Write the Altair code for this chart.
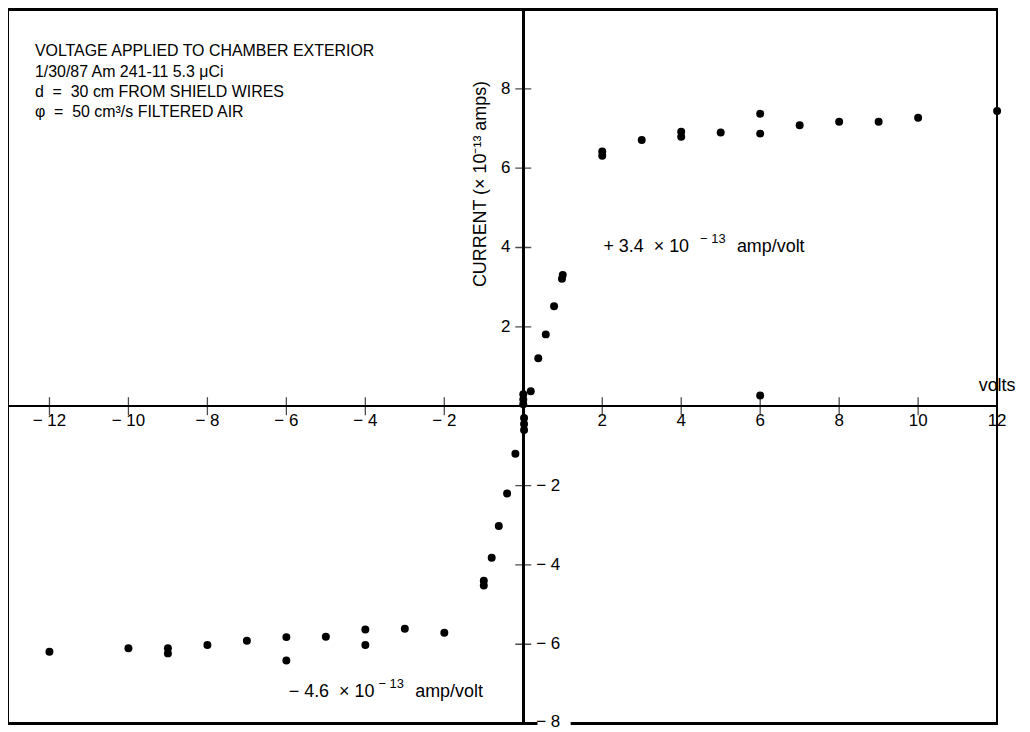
import altair as alt
import pandas as pd

# ---- data ----
volts = [0, 0, 0, 0.19, 0.38, 0.57, 0.78, 0.98, 1.0, 2, 2, 3, 4, 4, 5, 6, 6, 6, 7, 8, 9, 10, 12,
         0.02, 0.02, 0.02, -0.2, -0.41, -0.62, -0.8, -1.0, -1.0, -2, -3, -4, -4, -5, -6, -6,
         -7, -8, -9, -9, -10, -12]
current = [0.05, 0.17, 0.3, 0.375, 1.21, 1.81, 2.52, 3.21, 3.31, 6.31, 6.42, 6.71, 6.79, 6.92,
           6.9, 7.37, 6.87, 0.27, 7.08, 7.17, 7.17, 7.27, 7.44,
           -0.3, -0.45, -0.6, -1.2, -2.2, -3.02, -3.82, -4.4, -4.52, -5.71, -5.61, -5.63, -6.02,
           -5.81, -5.82, -6.41, -5.91, -6.02, -6.1, -6.23, -6.1, -6.19]

NB = "\u00a0"
x_ticks = [-12, -10, -8, -6, -4, -2, 2, 4, 6, 8, 10, 12]
x_tick_labels = ["\u2212 12", "\u2212 10", "\u2212 8", "\u2212 6", "\u2212 4", "\u2212 2",
                 "2", "4", "6", "8", "10", "12"]
y_ticks_pos = [2, 4, 6, 8]
y_labels_pos = ["2", "4", "6", "8"]
y_ticks_neg = [-2, -4, -6]
y_labels_neg = ["\u2212 2", "\u2212 4", "\u2212 6"]

info_lines = ["VOLTAGE APPLIED TO CHAMBER EXTERIOR",
              "1/30/87 Am 241-11 5.3 \u03bcCi",
              "d" + NB + " = " + NB + "30 cm FROM SHIELD WIRES",
              "\u03c6" + NB + " = " + NB + "50 cm\u00b3/s FILTERED AIR"]

W, H = 993, 717
X_DOMAIN = [-13.05, 12]
Y_DOMAIN = [-8, 10]
FONT = "Liberation Sans"
FS_TICK = 17
FS_INFO = 16
FS_ANN = 18

xs = alt.Scale(domain=X_DOMAIN, nice=False, zero=False)
ys = alt.Scale(domain=Y_DOMAIN, nice=False, zero=False)


def X(f):
    return alt.X(f, type="quantitative", scale=xs, axis=None)


def Y(f):
    return alt.Y(f, type="quantitative", scale=ys, axis=None)


pts = pd.DataFrame({"v": volts, "c": current})
xt = pd.DataFrame({"v": x_ticks, "lab": x_tick_labels, "z": 0})
ytp = pd.DataFrame({"c": y_ticks_pos, "lab": y_labels_pos, "z": 0})
ytn = pd.DataFrame({"c": y_ticks_neg, "lab": y_labels_neg, "z": 0})
yall = pd.DataFrame({"c": y_ticks_pos + y_ticks_neg + [-8], "z": 0})
info = pd.DataFrame({"t": info_lines, "row": list(range(len(info_lines)))})

frame = alt.Chart(pts).mark_rect(fillOpacity=0, stroke="black", strokeWidth=1.6).encode(
    x=alt.value(0), x2=alt.value(W), y=alt.value(0), y2=alt.value(H))

vaxis = alt.Chart(pts).mark_rule(color="black", strokeWidth=1.6).encode(x=alt.datum(0, scale=xs, axis=None))
haxis = alt.Chart(pts).mark_rule(color="black", strokeWidth=1.6).encode(y=alt.datum(0, scale=ys, axis=None))

xtick_marks = alt.Chart(xt).mark_tick(orient="vertical", size=18, thickness=1.3, color="black").encode(
    x=X("v"), y=Y("z"))
xtick_text = alt.Chart(xt).mark_text(font=FONT, fontSize=FS_TICK, dy=15, baseline="middle", align="center",
                                     color="black").encode(x=X("v"), y=Y("z"), text="lab:N")

ytick_marks = alt.Chart(yall).mark_tick(orient="horizontal", size=16, thickness=1.3, color="black").encode(
    x=X("z"), y=Y("c"))
ytext_pos = alt.Chart(ytp).mark_text(font=FONT, fontSize=FS_TICK, dx=-13, align="right", baseline="middle",
                                     color="black").encode(x=X("z"), y=Y("c"), text="lab:N")
ytext_neg = alt.Chart(ytn).mark_text(font=FONT, fontSize=FS_TICK, dx=13, align="left", baseline="middle",
                                     color="black").encode(x=X("z"), y=Y("c"), text="lab:N")

# "- 8" label sitting on the bottom frame line
bot = pd.DataFrame({"x1": [0.36], "x2": [1.2], "c": [-8], "lab": ["\u2212 8"], "z": [0]})
bot_bg = alt.Chart(bot).mark_rect(color="white").encode(
    x=X("x1"), x2="x2:Q", y=alt.value(H - 3), y2=alt.value(H + 3))
bot_txt = alt.Chart(bot).mark_text(font=FONT, fontSize=FS_TICK, dx=13, dy=-2, align="left", baseline="middle",
                                   color="black").encode(x=X("z"), y=Y("c"), text="lab:N")

volts_lbl = alt.Chart(pd.DataFrame({"v": [12], "c": [0.5], "t": ["volts"]})).mark_text(
    font=FONT, fontSize=FS_ANN, align="center", baseline="middle", color="black").encode(
    x=X("v"), y=Y("c"), text="t:N")

ylab = alt.Chart(pd.DataFrame({"v": [-1.08], "c": [5.6],
                               "t": ["CURRENT (\u00d7 10\u207b\u00b9\u00b3 amps)"]})).mark_text(
    font=FONT, fontSize=FS_ANN, angle=270, align="center", baseline="middle", color="black").encode(
    x=X("v"), y=Y("c"), text="t:N")

# slope annotations, composed of pieces so the exponent is raised
ann_pos = pd.DataFrame({"v": [2.03], "c": [4.0]})
ann_neg = pd.DataFrame({"v": [-5.94], "c": [-7.2]})


def annotation(df, first, dx_sup, dx_tail):
    base = alt.Chart(df)
    a = base.mark_text(font=FONT, fontSize=FS_ANN, align="left", baseline="middle", color="black",
                       text=first).encode(x=X("v"), y=Y("c"))
    b = base.mark_text(font=FONT, fontSize=13, align="left", baseline="middle", color="black",
                       text="\u2212 13", dx=dx_sup, dy=-8).encode(x=X("v"), y=Y("c"))
    c = base.mark_text(font=FONT, fontSize=FS_ANN, align="left", baseline="middle", color="black",
                       text="amp/volt", dx=dx_tail).encode(x=X("v"), y=Y("c"))
    return a + b + c


ann1 = annotation(ann_pos, "+ 3.4" + NB + " \u00d7 10", 97, 134)
ann2 = annotation(ann_neg, "\u2212 4.6" + NB + " \u00d7 10", 90, 127)

info_txt = alt.Chart(info).mark_text(font=FONT, fontSize=FS_INFO, align="left", baseline="middle",
                                     color="black").encode(
    x=alt.value(27),
    y=alt.Y("row:Q", scale=alt.Scale(domain=[0, 1], range=[42, 62.5]), axis=None),
    text="t:N")

points = alt.Chart(pts).mark_circle(size=64, color="black", opacity=1).encode(x=X("v"), y=Y("c"))

chart = alt.layer(
    frame, vaxis, haxis, xtick_marks, ytick_marks, xtick_text, ytext_pos, ytext_neg,
    bot_bg, bot_txt, volts_lbl, ylab, ann1, ann2, points, info_txt
).resolve_scale(y="independent").properties(
    width=W, height=H,
    autosize=alt.AutoSizeParams(type="none"),
    padding={"left": 0, "top": 0, "right": 25, "bottom": 7},
).configure_view(stroke=None)

chart.save("out.html", embed_options={"renderer": "svg", "actions": False})
